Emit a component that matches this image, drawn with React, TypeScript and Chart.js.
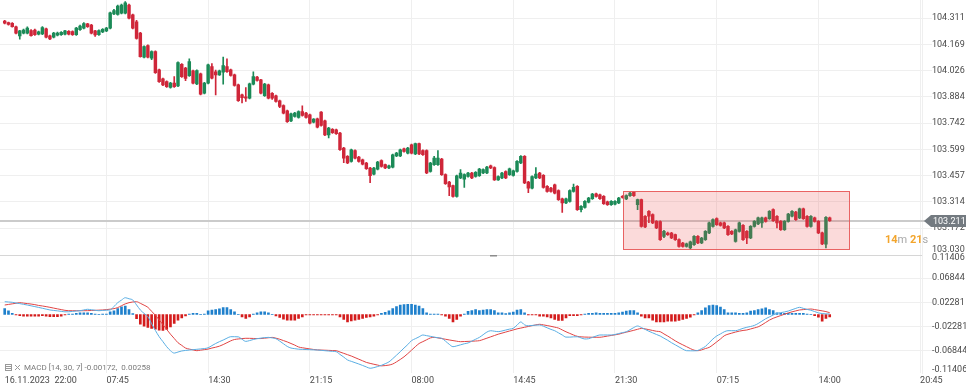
import React, { useEffect, useRef } from 'react';
import { Chart, registerables } from 'chart.js';

Chart.register(...registerables);

// ---------- data ----------
const opens = [
  104.296, 104.287, 104.284, 104.265, 104.215, 104.230, 104.230, 104.244, 104.247, 104.224,
  104.226, 104.253, 104.215, 104.208, 104.219, 104.222, 104.224, 104.240, 104.238, 104.222,
  104.249, 104.257, 104.280, 104.274, 104.242, 104.222, 104.237, 104.242, 104.257, 104.334,
  104.332, 104.338, 104.338, 104.383, 104.329, 104.292, 104.230, 104.099, 104.162, 104.094,
  104.130, 104.031, 103.982, 103.967, 103.935, 103.959, 103.944, 104.061, 104.040, 103.999,
  104.025, 103.955, 104.009, 103.904, 103.959, 104.049, 104.020, 104.004, 104.018, 104.049,
  104.031, 104.004, 103.949, 103.895, 103.884, 103.877, 103.953, 103.991, 103.976, 103.891,
  103.949, 103.904, 103.890, 103.863, 103.837, 103.808, 103.754, 103.778, 103.772, 103.805,
  103.796, 103.787, 103.747, 103.765, 103.801, 103.754, 103.678, 103.708, 103.705, 103.688,
  103.606, 103.561, 103.534, 103.593, 103.557, 103.543, 103.525, 103.498, 103.465, 103.492,
  103.539, 103.516, 103.498, 103.503, 103.564, 103.564, 103.602, 103.579, 103.624, 103.575,
  103.630, 103.593, 103.593, 103.479, 103.516, 103.516, 103.547, 103.462, 103.422, 103.402,
  103.344, 103.444, 103.438, 103.452, 103.471, 103.452, 103.456, 103.471, 103.471, 103.510,
  103.501, 103.434, 103.444, 103.479, 103.462, 103.458, 103.479, 103.525, 103.561, 103.422,
  103.389, 103.444, 103.471, 103.458, 103.398, 103.389, 103.407, 103.375, 103.331, 103.308,
  103.317, 103.371, 103.398, 103.272, 103.284, 103.313, 103.331, 103.358, 103.353, 103.344,
  103.314, 103.299, 103.302, 103.308, 103.344, 103.330, 103.348, 103.366, 103.299, 103.326,
  103.236, 103.263, 103.245, 103.208, 103.207, 103.127, 103.145, 103.145, 103.136, 103.109,
  103.091, 103.073, 103.064, 103.082, 103.127, 103.091, 103.109, 103.146, 103.181, 103.223,
  103.200, 103.200, 103.181, 103.154, 103.100, 103.154, 103.187, 103.154, 103.118, 103.181,
  103.194, 103.200, 103.227, 103.223, 103.272, 103.236, 103.208, 103.163, 103.208, 103.236,
  103.259, 103.227, 103.277, 103.236, 103.181, 103.227, 103.208, 103.146, 103.084, 103.227,
];
const highs = [
  104.300, 104.290, 104.288, 104.268, 104.246, 104.252, 104.265, 104.250, 104.252, 104.241,
  104.266, 104.258, 104.219, 104.234, 104.236, 104.239, 104.246, 104.244, 104.242, 104.261,
  104.274, 104.287, 104.284, 104.278, 104.246, 104.248, 104.255, 104.262, 104.345, 104.360,
  104.382, 104.388, 104.401, 104.388, 104.333, 104.300, 104.234, 104.161, 104.166, 104.134,
  104.134, 104.035, 103.986, 103.971, 103.963, 103.994, 104.074, 104.065, 104.045, 104.090,
  104.030, 104.031, 104.013, 103.963, 104.062, 104.065, 104.030, 104.029, 104.100, 104.090,
  104.035, 104.008, 103.953, 103.899, 103.935, 103.959, 104.020, 103.995, 103.980, 103.957,
  103.953, 103.908, 103.894, 103.867, 103.841, 103.812, 103.796, 103.800, 103.809, 103.835,
  103.800, 103.791, 103.767, 103.769, 103.805, 103.758, 103.719, 103.712, 103.709, 103.692,
  103.610, 103.565, 103.601, 103.597, 103.561, 103.547, 103.529, 103.502, 103.502, 103.534,
  103.543, 103.520, 103.514, 103.574, 103.583, 103.601, 103.606, 103.610, 103.628, 103.634,
  103.634, 103.597, 103.597, 103.529, 103.561, 103.593, 103.551, 103.466, 103.426, 103.406,
  103.460, 103.490, 103.466, 103.475, 103.475, 103.478, 103.496, 103.493, 103.507, 103.514,
  103.505, 103.456, 103.475, 103.483, 103.498, 103.487, 103.538, 103.565, 103.565, 103.426,
  103.456, 103.501, 103.475, 103.462, 103.402, 103.393, 103.411, 103.379, 103.335, 103.335,
  103.379, 103.411, 103.402, 103.294, 103.321, 103.339, 103.361, 103.362, 103.357, 103.348,
  103.318, 103.321, 103.321, 103.339, 103.348, 103.352, 103.366, 103.370, 103.330, 103.330,
  103.240, 103.267, 103.249, 103.212, 103.211, 103.160, 103.150, 103.149, 103.140, 103.113,
  103.095, 103.090, 103.101, 103.131, 103.131, 103.122, 103.158, 103.204, 103.222, 103.227,
  103.204, 103.204, 103.185, 103.158, 103.167, 103.204, 103.191, 103.158, 103.185, 103.212,
  103.231, 103.231, 103.231, 103.267, 103.276, 103.240, 103.212, 103.212, 103.252, 103.267,
  103.263, 103.281, 103.281, 103.240, 103.240, 103.231, 103.212, 103.150, 103.234, 103.231,
];
const lows = [
  104.280, 104.274, 104.262, 104.226, 104.197, 104.226, 104.226, 104.213, 104.218, 104.220,
  104.222, 104.204, 104.195, 104.204, 104.215, 104.218, 104.220, 104.220, 104.218, 104.218,
  104.245, 104.253, 104.261, 104.226, 104.212, 104.218, 104.233, 104.238, 104.253, 104.330,
  104.328, 104.334, 104.334, 104.307, 104.253, 104.198, 104.099, 104.095, 104.095, 104.086,
  104.012, 103.963, 103.945, 103.936, 103.931, 103.936, 103.940, 103.990, 103.972, 103.995,
  103.955, 103.951, 103.895, 103.900, 103.955, 103.982, 103.895, 104.000, 103.953, 104.017,
  103.996, 103.942, 103.859, 103.852, 103.859, 103.873, 103.949, 103.969, 103.900, 103.887,
  103.873, 103.870, 103.855, 103.826, 103.792, 103.746, 103.750, 103.774, 103.768, 103.779,
  103.768, 103.738, 103.743, 103.716, 103.725, 103.674, 103.662, 103.686, 103.680, 103.593,
  103.527, 103.521, 103.530, 103.548, 103.530, 103.515, 103.490, 103.418, 103.461, 103.488,
  103.502, 103.494, 103.494, 103.499, 103.560, 103.560, 103.584, 103.575, 103.575, 103.571,
  103.571, 103.566, 103.467, 103.475, 103.512, 103.512, 103.458, 103.409, 103.348, 103.340,
  103.340, 103.440, 103.393, 103.448, 103.440, 103.448, 103.452, 103.467, 103.467, 103.494,
  103.430, 103.430, 103.440, 103.440, 103.458, 103.454, 103.475, 103.521, 103.413, 103.364,
  103.385, 103.440, 103.440, 103.389, 103.367, 103.367, 103.358, 103.322, 103.257, 103.304,
  103.313, 103.367, 103.268, 103.260, 103.280, 103.309, 103.327, 103.340, 103.327, 103.300,
  103.295, 103.295, 103.298, 103.304, 103.334, 103.326, 103.344, 103.344, 103.272, 103.177,
  103.174, 103.201, 103.196, 103.169, 103.105, 103.120, 103.132, 103.114, 103.105, 103.069,
  103.069, 103.069, 103.058, 103.078, 103.087, 103.087, 103.105, 103.142, 103.177, 103.187,
  103.183, 103.169, 103.132, 103.136, 103.096, 103.150, 103.105, 103.088, 103.114, 103.177,
  103.190, 103.176, 103.204, 103.219, 103.208, 103.173, 103.159, 103.159, 103.204, 103.232,
  103.214, 103.223, 103.219, 103.177, 103.177, 103.204, 103.142, 103.082, 103.064, 103.208,
];
const closes = [
  104.284, 104.278, 104.265, 104.230, 104.242, 104.247, 104.257, 104.217, 104.222, 104.237,
  104.260, 104.208, 104.199, 104.230, 104.231, 104.235, 104.242, 104.224, 104.222, 104.257,
  104.269, 104.282, 104.265, 104.230, 104.220, 104.244, 104.251, 104.257, 104.341, 104.352,
  104.377, 104.383, 104.395, 104.311, 104.257, 104.202, 104.103, 104.157, 104.099, 104.130,
  104.016, 103.967, 103.949, 103.940, 103.959, 103.940, 104.070, 103.994, 103.985, 104.076,
  103.959, 104.027, 103.899, 103.959, 104.058, 103.986, 104.004, 104.025, 104.054, 104.021,
  104.000, 103.946, 103.863, 103.880, 103.877, 103.955, 103.994, 103.973, 103.904, 103.953,
  103.877, 103.877, 103.859, 103.832, 103.796, 103.750, 103.792, 103.796, 103.805, 103.783,
  103.772, 103.742, 103.763, 103.720, 103.729, 103.678, 103.715, 103.690, 103.684, 103.597,
  103.552, 103.525, 103.597, 103.552, 103.534, 103.519, 103.494, 103.456, 103.498, 103.530,
  103.506, 103.498, 103.510, 103.570, 103.579, 103.597, 103.588, 103.606, 103.579, 103.630,
  103.575, 103.570, 103.471, 103.525, 103.552, 103.552, 103.462, 103.413, 103.395, 103.344,
  103.456, 103.471, 103.462, 103.471, 103.444, 103.474, 103.492, 103.489, 103.503, 103.498,
  103.434, 103.452, 103.471, 103.444, 103.494, 103.483, 103.534, 103.561, 103.417, 103.389,
  103.452, 103.465, 103.444, 103.393, 103.371, 103.371, 103.362, 103.326, 103.308, 103.331,
  103.375, 103.393, 103.272, 103.290, 103.317, 103.335, 103.357, 103.344, 103.331, 103.304,
  103.299, 103.317, 103.317, 103.335, 103.338, 103.348, 103.362, 103.348, 103.326, 103.181,
  103.178, 103.236, 103.200, 103.173, 103.109, 103.154, 103.136, 103.118, 103.109, 103.073,
  103.073, 103.086, 103.097, 103.127, 103.091, 103.118, 103.154, 103.200, 103.218, 103.191,
  103.187, 103.173, 103.136, 103.140, 103.163, 103.200, 103.109, 103.118, 103.181, 103.208,
  103.227, 103.227, 103.208, 103.263, 103.212, 103.200, 103.163, 103.208, 103.248, 103.263,
  103.218, 103.277, 103.223, 103.181, 103.236, 103.208, 103.146, 103.086, 103.230, 103.212,
];

const macdLine = [
  0.0240, 0.0235, 0.0229, 0.0216, 0.0204, 0.0191, 0.0178, 0.0163, 0.0148, 0.0133,
  0.0117, 0.0101, 0.0085, 0.0076, 0.0068, 0.0059, 0.0050, 0.0051, 0.0058, 0.0065,
  0.0071, 0.0085, 0.0098, 0.0089, 0.0080, 0.0071, 0.0076, 0.0080, 0.0085, 0.0150,
  0.0222, 0.0270, 0.0315, 0.0295, 0.0272, 0.0180, 0.0085, 0.0020, -0.0041, -0.0175,
  -0.0300, -0.0417, -0.0510, -0.0605, -0.0680, -0.0725, -0.0705, -0.0685, -0.0675, -0.0668,
  -0.0661, -0.0654, -0.0647, -0.0640, -0.0625, -0.0585, -0.0545, -0.0510, -0.0480, -0.0445,
  -0.0417, -0.0417, -0.0420, -0.0465, -0.0505, -0.0490, -0.0470, -0.0454, -0.0444, -0.0434,
  -0.0430, -0.0440, -0.0455, -0.0500, -0.0550, -0.0600, -0.0630, -0.0642, -0.0652, -0.0655,
  -0.0658, -0.0661, -0.0664, -0.0667, -0.0673, -0.0680, -0.0686, -0.0692, -0.0699, -0.0750,
  -0.0800, -0.0854, -0.0880, -0.0905, -0.0930, -0.0957, -0.0985, -0.1010, -0.0998, -0.0978,
  -0.0955, -0.0925, -0.0890, -0.0830, -0.0765, -0.0699, -0.0630, -0.0565, -0.0490, -0.0455,
  -0.0420, -0.0385, -0.0398, -0.0410, -0.0425, -0.0436, -0.0447, -0.0500, -0.0560, -0.0605,
  -0.0590, -0.0570, -0.0550, -0.0535, -0.0500, -0.0465, -0.0430, -0.0380, -0.0330, -0.0305,
  -0.0314, -0.0322, -0.0310, -0.0292, -0.0275, -0.0259, -0.0200, -0.0140, -0.0195, -0.0212,
  -0.0206, -0.0200, -0.0197, -0.0220, -0.0250, -0.0280, -0.0305, -0.0345, -0.0385, -0.0425,
  -0.0425, -0.0420, -0.0418, -0.0440, -0.0460, -0.0455, -0.0430, -0.0405, -0.0385, -0.0385,
  -0.0385, -0.0385, -0.0375, -0.0358, -0.0340, -0.0325, -0.0285, -0.0245, -0.0216, -0.0245,
  -0.0280, -0.0315, -0.0345, -0.0375, -0.0404, -0.0445, -0.0485, -0.0530, -0.0570, -0.0610,
  -0.0650, -0.0680, -0.0682, -0.0682, -0.0675, -0.0640, -0.0600, -0.0530, -0.0460, -0.0404,
  -0.0365, -0.0325, -0.0304, -0.0304, -0.0304, -0.0285, -0.0260, -0.0240, -0.0225, -0.0205,
  -0.0170, -0.0125, -0.0080, -0.0045, -0.0010, 0.0023, 0.0035, 0.0048, 0.0065, 0.0090,
  0.0115, 0.0135, 0.0115, 0.0095, 0.0080, 0.0055, 0.0030, 0.0018, 0.0012, 0.0009,
];
const signalLine = [
  0.0178, 0.0189, 0.0200, 0.0211, 0.0222, 0.0214, 0.0205, 0.0196, 0.0185, 0.0170,
  0.0160, 0.0148, 0.0135, 0.0120, 0.0106, 0.0092, 0.0078, 0.0071, 0.0071, 0.0071,
  0.0071, 0.0071, 0.0072, 0.0075, 0.0078, 0.0082, 0.0085, 0.0092, 0.0100, 0.0110,
  0.0130, 0.0165, 0.0200, 0.0222, 0.0235, 0.0240, 0.0210, 0.0175, 0.0135, 0.0060,
  -0.0015, -0.0100, -0.0190, -0.0280, -0.0370, -0.0450, -0.0530, -0.0580, -0.0630, -0.0650,
  -0.0665, -0.0680, -0.0670, -0.0660, -0.0650, -0.0630, -0.0615, -0.0595, -0.0565, -0.0530,
  -0.0495, -0.0470, -0.0460, -0.0452, -0.0447, -0.0448, -0.0450, -0.0452, -0.0452, -0.0445,
  -0.0437, -0.0430, -0.0445, -0.0465, -0.0490, -0.0515, -0.0545, -0.0575, -0.0610, -0.0625,
  -0.0636, -0.0647, -0.0657, -0.0665, -0.0668, -0.0671, -0.0674, -0.0677, -0.0680, -0.0705,
  -0.0730, -0.0755, -0.0780, -0.0810, -0.0840, -0.0870, -0.0900, -0.0918, -0.0935, -0.0950,
  -0.0965, -0.0960, -0.0950, -0.0930, -0.0890, -0.0845, -0.0795, -0.0735, -0.0670, -0.0605,
  -0.0545, -0.0510, -0.0475, -0.0440, -0.0430, -0.0440, -0.0452, -0.0465, -0.0478, -0.0490,
  -0.0502, -0.0511, -0.0508, -0.0505, -0.0502, -0.0498, -0.0492, -0.0470, -0.0445, -0.0420,
  -0.0395, -0.0370, -0.0350, -0.0330, -0.0310, -0.0290, -0.0270, -0.0255, -0.0240, -0.0225,
  -0.0210, -0.0195, -0.0184, -0.0195, -0.0208, -0.0222, -0.0238, -0.0255, -0.0290, -0.0325,
  -0.0355, -0.0385, -0.0410, -0.0420, -0.0424, -0.0426, -0.0428, -0.0428, -0.0428, -0.0418,
  -0.0406, -0.0394, -0.0382, -0.0370, -0.0350, -0.0332, -0.0315, -0.0297, -0.0278, -0.0262,
  -0.0270, -0.0285, -0.0300, -0.0315, -0.0323, -0.0365, -0.0405, -0.0450, -0.0495, -0.0535,
  -0.0570, -0.0605, -0.0640, -0.0670, -0.0680, -0.0665, -0.0640, -0.0618, -0.0570, -0.0515,
  -0.0460, -0.0400, -0.0370, -0.0350, -0.0330, -0.0313, -0.0300, -0.0291, -0.0272, -0.0252,
  -0.0232, -0.0195, -0.0150, -0.0105, -0.0071, -0.0045, -0.0020, 0.0005, 0.0030, 0.0050,
  0.0068, 0.0085, 0.0092, 0.0098, 0.0103, 0.0092, 0.0080, 0.0068, 0.0055, 0.0034,
];
const histogram = [
  0.0113, 0.0069, 0.0020, -0.0010, -0.0020, -0.0030, -0.0030, -0.0030, -0.0030, -0.0030,
  -0.0020, -0.0030, -0.0040, -0.0040, -0.0040, -0.0030, -0.0010, 0.0010, 0.0010, 0.0020,
  0.0030, 0.0030, 0.0030, 0.0020, 0.0010, 0.0005, 0.0010, 0.0010, 0.0050, 0.0069,
  0.0113, 0.0144, 0.0157, 0.0094, 0.0019, -0.0080, -0.0182, -0.0219, -0.0244, -0.0263,
  -0.0276, -0.0294, -0.0301, -0.0282, -0.0232, -0.0169, -0.0107, -0.0063, -0.0025, 0.0010,
  0.0020, 0.0020, 0.0005, 0.0010, 0.0069, 0.0081, 0.0094, 0.0107, 0.0132, 0.0132,
  0.0094, 0.0050, 0.0005, -0.0044, -0.0075, -0.0044, 0.0010, 0.0030, 0.0050, 0.0050,
  0.0030, 0.0005, -0.0025, -0.0056, -0.0088, -0.0107, -0.0107, -0.0107, -0.0075, -0.0044,
  -0.0010, -0.0010, -0.0010, -0.0010, -0.0010, -0.0010, -0.0010, -0.0010, -0.0010, -0.0044,
  -0.0094, -0.0138, -0.0119, -0.0107, -0.0094, -0.0075, -0.0056, -0.0044, -0.0031, -0.0010,
  0.0020, 0.0040, 0.0070, 0.0110, 0.0150, 0.0175, 0.0188, 0.0190, 0.0190, 0.0175,
  0.0157, 0.0110, 0.0030, 0.0010, 0.0010, 0.0010, -0.0010, -0.0030, -0.0075, -0.0138,
  -0.0094, -0.0030, 0.0010, 0.0060, 0.0075, 0.0094, 0.0075, 0.0081, 0.0094, 0.0094,
  0.0075, 0.0031, 0.0031, 0.0019, 0.0031, 0.0044, 0.0081, 0.0094, 0.0031, -0.0010,
  -0.0010, -0.0010, -0.0030, -0.0030, -0.0044, -0.0063, -0.0094, -0.0113, -0.0113, -0.0063,
  -0.0020, -0.0020, -0.0020, -0.0010, 0.0010, 0.0020, 0.0020, 0.0030, 0.0020, 0.0020,
  0.0020, 0.0020, 0.0020, 0.0030, 0.0044, 0.0063, 0.0075, 0.0075, 0.0030, -0.0030,
  -0.0063, -0.0063, -0.0107, -0.0138, -0.0138, -0.0138, -0.0125, -0.0125, -0.0125, -0.0113,
  -0.0094, -0.0075, -0.0050, -0.0010, 0.0030, 0.0075, 0.0125, 0.0169, 0.0175, 0.0169,
  0.0138, 0.0094, 0.0030, 0.0030, 0.0030, 0.0020, 0.0020, 0.0030, 0.0063, 0.0075,
  0.0094, 0.0107, 0.0125, 0.0094, 0.0075, 0.0030, 0.0020, 0.0020, 0.0020, 0.0020,
  0.0020, 0.0020, 0.0020, 0.0010, 0.0005, -0.0020, -0.0050, -0.0125, -0.0075, -0.0044,
];

const xTickIndex = [0, 27, 54, 81, 108, 135, 162, 189, 216, 243];
const xTickLabels = ['16.11.2023  22:00', '07:45', '14:30', '21:15', '08:00', '14:45', '21:30', '07:15', '14:00', '20:45'];
const priceTicks = [103.172, 103.314, 103.457, 103.599, 103.742, 103.884, 104.026, 104.169, 104.311];
const priceEdgeTick = 103.030;
const macdTicks = [-0.06844, -0.02281, 0.02281, 0.06844];
const macdEdgeTicks = [0.11406, -0.11406];

const lastPrice = 103.211;
const zoneStartIdx = 164.2;
const zoneEndIdx = 224.2;
const zoneHigh = 103.371;
const zoneLow = 103.055;
const macdLegend = 'MACD [14, 30, 7] -0.00172,  0.00258';
const countdown = [['14', 'num'], ['m', 'unit'], [' 21', 'num'], ['s', 'unit']];

// axis ranges
const X_MIN = -1.25;
const X_MAX = 243.5;
const PRICE_MIN = 103.028;
const PRICE_MAX = 104.41;
const MACD_MIN = -0.1099;
const MACD_MAX = 0.1125;

const UP = '#1b8a57';
const DOWN = '#cf2639';
const GRID = '#efefef';
const TEXT = '#4a4a4a';
const FONT = 'Roboto';

const overlayPlugin = {
  id: 'overlay',
  beforeDatasetsDraw(chart: any) {
    const { ctx, chartArea, scales } = chart;
    const y = scales.y;
    ctx.save();
    const sepY = Math.round(y.bottom) + 0.5;
    ctx.strokeStyle = '#d6d6d6';
    ctx.lineWidth = 1;
    ctx.beginPath();
    ctx.moveTo(0, sepY);
    ctx.lineTo(chartArea.right, sepY);
    ctx.stroke();
    const py = y.getPixelForValue(lastPrice);
    ctx.strokeStyle = '#cbcbcb';
    ctx.lineWidth = 2;
    ctx.beginPath();
    ctx.moveTo(0, py);
    ctx.lineTo(chartArea.right + 3, py);
    ctx.stroke();
    ctx.restore();
  },
  afterDatasetsDraw(chart: any) {
    const { ctx, scales } = chart;
    const x = scales.x;
    const y = scales.y;
    const l = x.getPixelForValue(zoneStartIdx);
    const r = x.getPixelForValue(zoneEndIdx);
    const t = y.getPixelForValue(zoneHigh);
    const b = y.getPixelForValue(zoneLow);
    ctx.save();
    ctx.fillStyle = 'rgba(236, 72, 72, 0.2)';
    ctx.fillRect(l, t, r - l, b - t);
    ctx.strokeStyle = 'rgba(232, 92, 92, 0.95)';
    ctx.lineWidth = 1;
    ctx.strokeRect(Math.round(l) + 0.5, Math.round(t) + 0.5, Math.round(r - l), Math.round(b - t));
    ctx.restore();
  },
  afterDraw(chart: any) {
    const { ctx, chartArea, scales } = chart;
    const y = scales.y;
    const y2 = scales.y2;
    const labelX = chartArea.right + 10;
    ctx.save();
    // edge tick labels
    ctx.font = `9px ${FONT}`;
    ctx.fillStyle = TEXT;
    ctx.textAlign = 'left';
    ctx.textBaseline = 'middle';
    ctx.fillText(priceEdgeTick.toFixed(3), labelX, y.getPixelForValue(priceEdgeTick) - 4);
    ctx.fillText(macdEdgeTicks[0].toFixed(5), labelX, y2.top + 3.5);
    ctx.fillText(macdEdgeTicks[1].toFixed(5), labelX, y2.bottom - 3.5);

    // last price badge
    const py = Math.round(y.getPixelForValue(lastPrice));
    const tip = chartArea.right + 2;
    ctx.fillStyle = '#737a80';
    ctx.beginPath();
    ctx.moveTo(tip, py);
    ctx.lineTo(tip + 7, py - 6);
    ctx.lineTo(chart.width, py - 6);
    ctx.lineTo(chart.width, py + 6);
    ctx.lineTo(tip + 7, py + 6);
    ctx.closePath();
    ctx.fill();
    ctx.fillStyle = '#ffffff';
    ctx.font = `9px ${FONT}`;
    ctx.fillText(lastPrice.toFixed(3), tip + 9, py + 0.5);

    // countdown
    let cx = chartArea.right - 37;
    const cy = y.getPixelForValue(zoneLow) - 9;
    for (const [txt, kind] of countdown) {
      ctx.font = kind === 'num' ? `bold 11px ${FONT}` : `11px ${FONT}`;
      ctx.fillStyle = kind === 'num' ? '#f3a52c' : '#a8a8a8';
      ctx.fillText(txt, cx, cy);
      cx += ctx.measureText(txt).width;
    }

    // MACD legend
    const ly = y2.bottom - 5;
    ctx.strokeStyle = '#9a9a9a';
    ctx.lineWidth = 1;
    ctx.strokeRect(5.5, ly - 3.5, 6, 6);
    ctx.beginPath();
    ctx.moveTo(6, ly - 1.5); ctx.lineTo(11, ly - 1.5);
    ctx.moveTo(6, ly + 0.5); ctx.lineTo(11, ly + 0.5);
    ctx.moveTo(15, ly - 3); ctx.lineTo(20, ly + 2);
    ctx.moveTo(20, ly - 3); ctx.lineTo(15, ly + 2);
    ctx.stroke();
    ctx.font = `8px ${FONT}`;
    ctx.fillStyle = '#7a7a7a';
    ctx.fillText(macdLegend, 24, ly);

    // pane handle
    ctx.fillStyle = '#8c8c8c';
    ctx.fillRect(490, Math.round(y.bottom), 7, 1.5);
    ctx.restore();
  },
};

export default function App() {
  const ref = useRef<HTMLCanvasElement | null>(null);

  useEffect(() => {
    if (!ref.current) return;
    Chart.defaults.font.family = FONT;
    const candleColors = closes.map((c, i) => (c >= opens[i] ? UP : DOWN));
    const histColors = histogram.map((v) => (v >= 0 ? '#1f80cc' : '#d41c1c'));

    const chart = new Chart(ref.current, {
      type: 'bar',
      data: {
        datasets: [
          {
            type: 'line',
            label: 'MACD',
            data: macdLine.map((v, i) => ({ x: i, y: v })),
            yAxisID: 'y2',
            borderColor: '#5aaee3',
            borderWidth: 1,
            pointRadius: 0,
            cubicInterpolationMode: 'monotone',
            order: 0,
          } as any,
          {
            type: 'line',
            label: 'Signal',
            data: signalLine.map((v, i) => ({ x: i, y: v })),
            yAxisID: 'y2',
            borderColor: '#e04444',
            borderWidth: 1,
            pointRadius: 0,
            cubicInterpolationMode: 'monotone',
            order: 0,
          } as any,
          {
            type: 'bar',
            label: 'Histogram',
            data: histogram.map((v, i) => ({ x: i, y: v })),
            yAxisID: 'y2',
            backgroundColor: histColors,
            barThickness: 2,
            grouped: false,
            order: 3,
          } as any,
          {
            type: 'bar',
            label: 'Wicks',
            data: lows.map((l, i) => ({ x: i, y: [l, highs[i]] })),
            yAxisID: 'y',
            backgroundColor: candleColors,
            barThickness: 1,
            grouped: false,
            order: 2,
          } as any,
          {
            type: 'bar',
            label: 'Bodies',
            data: opens.map((o, i) => ({ x: i, y: [o, closes[i]] })),
            yAxisID: 'y',
            backgroundColor: candleColors,
            barThickness: 2.8,
            grouped: false,
            order: 1,
          } as any,
        ],
      },
      options: {
        responsive: false,
        animation: false,
        events: [],
        layout: { padding: 0 },
        plugins: { legend: { display: false }, tooltip: { enabled: false } },
        scales: {
          x: {
            type: 'linear',
            min: X_MIN,
            max: X_MAX,
            offset: false,
            position: 'bottom',
            grid: {
              offset: false,
              drawTicks: false,
              color: (c: any) => (c.index === 0 ? 'rgba(0,0,0,0)' : GRID),
            },
            border: { display: false },
            ticks: {
              autoSkip: false,
              maxRotation: 0,
              minRotation: 0,
              align: 'start',
              padding: 2,
              color: TEXT,
              font: { family: FONT, size: 9 },
              callback: (_v: any, i: number) => xTickLabels[i],
            },
            afterBuildTicks: (s: any) => {
              s.ticks = xTickIndex.map((v) => ({ value: v }));
            },
            afterFit: (s: any) => {
              s.height = 15;
              s.paddingLeft = 0;
              s.paddingRight = 0;
            },
          },
          y: {
            type: 'linear',
            position: 'right',
            stack: 'panes',
            stackWeight: 254.6,
            min: PRICE_MIN,
            max: PRICE_MAX,
            beginAtZero: false,
            grid: { color: GRID, drawTicks: true, tickLength: 10 },
            border: { display: true, color: GRID },
            ticks: {
              autoSkip: false,
              padding: 0,
              color: TEXT,
              font: { family: FONT, size: 9 },
              callback: (v: any) => Number(v).toFixed(3),
            },
            afterBuildTicks: (s: any) => {
              s.ticks = priceTicks.map((v) => ({ value: v }));
            },
            afterFit: (s: any) => {
              s.width = 44;
              s.paddingTop = 0;
              s.paddingBottom = 0;
            },
          },
          y2: {
            type: 'linear',
            position: 'right',
            stack: 'panes',
            stackWeight: 118.4,
            min: MACD_MIN,
            max: MACD_MAX,
            beginAtZero: false,
            grid: { color: GRID, drawTicks: true, tickLength: 10 },
            border: { display: true, color: GRID },
            ticks: {
              autoSkip: false,
              padding: 0,
              color: TEXT,
              font: { family: FONT, size: 9 },
              callback: (v: any) => Number(v).toFixed(5),
            },
            afterBuildTicks: (s: any) => {
              s.ticks = macdTicks.map((v) => ({ value: v }));
            },
            afterFit: (s: any) => {
              s.width = 44;
              s.paddingTop = 0;
              s.paddingBottom = 0;
            },
          },
        },
      } as any,
      plugins: [overlayPlugin],
    });

    return () => chart.destroy();
  }, []);

  return (
    <div style={{ position: 'fixed', left: 0, top: 0, width: 966, height: 388, background: '#ffffff' }}>
      <canvas ref={ref} width={966} height={388} style={{ display: 'block' }} />
    </div>
  );
}
